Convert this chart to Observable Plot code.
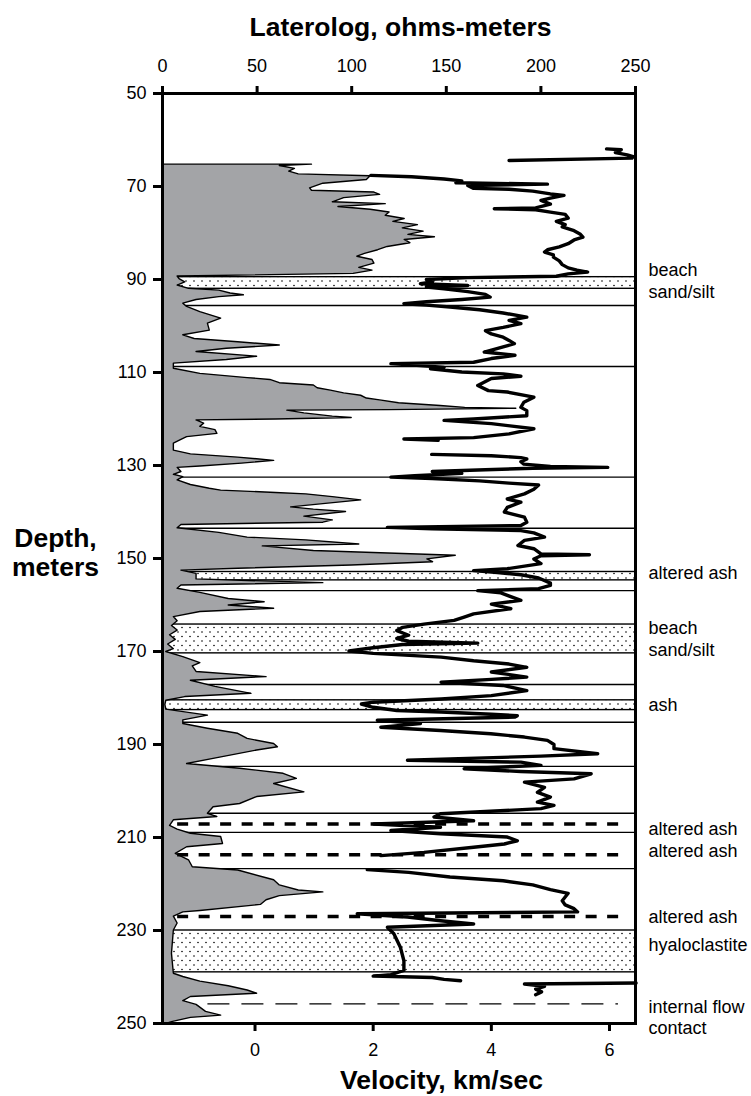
<!DOCTYPE html>
<html>
<head>
<meta charset="utf-8">
<script src="https://cdn.jsdelivr.net/npm/d3@7"></script>
<script src="https://cdn.jsdelivr.net/npm/@observablehq/plot@0.6"></script>
<style>
  html, body { margin: 0; padding: 0; background: white; }
</style>
</head>
<body>
<div id="chart"></div>
<script>
// ---------- data ----------
const depthTicks = [50, 70, 90, 110, 130, 150, 170, 190, 210, 230, 250];
const latTicks = [0, 50, 100, 150, 200, 250];
const velTicks = [0, 2, 4, 6];
const velRange = [-1.566, 6.44];   // velocity spanned by the frame width
const latRange = [0, 250];

// Laterolog (ohm-m) vs depth (m)
const latDepth = [65.3,65.6,66.2,66.8,67.4,67.8,68.6,69.4,70.4,70.9,71.3,71.8,72.5,73.4,73.8,74.4,75.0,75.6,76.3,77.0,77.6,78.3,79.0,79.7,80.4,80.9,81.5,82.2,83.0,83.7,84.5,85.1,85.8,86.6,87.5,88.1,88.8,89.35,89.9,90.6,91.3,92.0,92.4,93.0,93.4,93.8,94.4,95.2,95.9,97.0,98.4,99.5,101.0,102.0,102.8,103.5,104.2,104.9,105.6,106.6,107.3,108.1,109.2,110.3,111.2,111.6,112.3,112.8,113.4,113.9,114.5,115.0,115.6,116.0,116.6,117.2,117.6,117.8,118.1,118.2,118.8,119.5,119.8,120.1,120.3,121.0,121.7,122.4,123.2,123.9,124.5,125.3,126.8,127.6,128.3,129.0,129.6,130.2,130.5,131.4,132.0,132.5,133.2,134.2,135.0,135.4,135.9,136.2,136.8,137.5,138.3,139.0,139.5,140.0,141.0,141.8,142.3,142.8,143.5,144.5,145.5,146.1,147.0,147.4,148.4,149.4,150.2,150.8,151.5,152.2,152.6,153.3,154.5,155.3,155.8,156.5,157.4,158.7,159.4,160.1,160.8,161.5,162.6,163.5,164.5,165.5,166.5,167.5,168.5,169.5,170.1,171.2,172.5,173.2,174.4,175.5,176.3,177.6,179.1,179.8,180.6,181.5,182.5,183.8,184.8,185.6,186.6,187.7,188.8,189.9,190.6,191.3,193.1,194.2,195.2,196.3,197.4,198.5,200.3,201.3,202.8,203.5,204.9,205.6,206.3,207.5,208.3,209.2,209.9,211.4,212.1,213.5,214.9,216.4,217.1,219.2,220.3,221.4,221.8,222.6,223.5,224.5,225.8,226.1,227.0,228.5,230.0,235.0,239.3,240.0,241.0,242.0,242.9,243.6,244.3,245.2,246.0,247.5,248.3,248.8,249.7,250];
const latOhm = [79,62,70,67,72,110,108,85,78,79,112,115,96,90,118,93,110,120,118,128,122,135,127,138,130,144,128,131,119,114,107,103,111,112,104,111,101,8,9,12,8,14,30,36,43,30,18,11,13,20,31,24,25,11,17,40,62,34,18,50,34,6,6,20,45,57,62,80,82,89,96,105,108,115,125,147,160,187,120,66,75,90,100,60,18,22,20,28,29,13,10,6,6,15,40,59,42,20,8,10,6,11,8,15,25,31,60,76,90,105,85,68,80,97,75,90,85,10,8,30,45,76,104,53,80,155,140,143,100,40,10,18,18,85,10,8,20,35,54,35,59,20,6,8,5,8,4,7,3,6,2,11,20,16,18,55,15,28,47,12,2,1.5,2,24,11,11,24,40,45,59,61,50,27,13,41,64,71,59,75,50,41,27,24,29,6,4,8,15,31,32,13,7,14,16,40,59,62,72,85,62,55,52,20,11,6,8,6,5,6,11,20,35,45,50,15,11,18,23,31,15,5,3];

// Velocity (km/s) vs depth (m); NaN marks a gap in the log
const velDepth = [61.9,62.1,62.7,63.2,63.6,63.9,64.4,NaN,
67.6,67.9,68.4,68.8,69.2,69.5,69.8,70.4,70.6,71.0,71.6,71.9,72.5,73.0,73.8,74.6,74.8,75.0,75.5,76.0,76.8,77.5,78.2,78.7,79.5,80.2,80.9,81.5,82.3,83.0,83.6,84.1,84.7,85.2,86.0,86.8,87.5,88.0,88.4,88.8,89.3,89.6,90.0,90.5,90.9,91.3,91.6,92.0,92.6,93.2,93.8,94.3,94.8,95.2,95.5,95.9,96.5,97.2,98.1,98.8,99.5,100.3,101.0,101.7,102.4,103.1,103.8,104.5,105.6,106.3,107.0,107.8,108.1,108.5,108.9,109.2,109.9,110.3,110.8,111.3,112.8,113.9,114.2,115.3,116.4,117.5,118.2,119.3,120.0,120.3,121.0,122.1,123.2,124.0,124.3,124.6,NaN,
127.6,127.9,128.3,128.6,129.2,129.7,130.2,130.4,130.6,130.9,131.3,131.7,132.2,132.5,132.8,133.3,133.8,134.2,135.1,136.1,137.2,137.9,139.0,140.0,141.1,142.2,142.9,143.3,143.6,144.0,144.5,145.4,146.1,147.2,147.9,149.0,149.2,149.4,150.1,151.1,152.2,152.6,153.0,153.5,154.2,155.3,155.8,156.5,156.9,157.4,159.0,159.8,160.8,161.9,162.6,163.3,164.1,164.8,165.5,166.5,167.2,167.8,168.2,168.5,169.2,169.9,170.4,171.2,172.0,172.7,173.4,174.4,175.5,176.0,176.6,177.3,178.4,179.5,180.2,180.9,181.3,182.0,182.7,183.0,183.5,183.8,184.1,184.8,185.5,186.3,187.0,187.7,188.4,189.1,190.0,190.9,192.0,192.5,193.4,193.8,194.5,195.2,195.8,196.3,197.4,198.1,199.2,200.3,201.3,202.4,203.1,203.8,204.9,205.6,206.4,207.1,207.8,208.5,209.2,209.9,210.7,211.4,212.1,213.2,213.9,NaN,
216.9,217.5,218.5,219.3,220.2,221.2,222.0,222.8,223.6,224.5,225.3,226.0,226.4,227.1,227.9,228.6,229.3,230.7,233.6,236.5,238.6,239.5,239.8,240.1,240.5,240.8,NaN,
241.3,241.5,242.0,242.6,243.2,243.8];
const velKms = [5.95,6.2,6.1,6.3,6.4,6.38,4.30,NaN,
1.96,2.65,3.2,3.5,3.4,4.95,3.6,3.7,4.3,4.7,5.0,5.23,5.0,4.84,5.0,4.75,4.05,4.75,5.0,5.25,5.3,5.1,5.25,5.2,5.4,5.5,5.55,5.4,5.3,5.15,4.95,4.9,5.05,5.05,5.15,5.2,5.3,5.45,5.63,5.3,5.1,3.6,2.9,3.0,2.8,3.6,2.9,3.2,3.6,3.9,3.98,3.5,2.9,2.52,2.9,3.3,3.8,4.2,4.6,4.3,4.5,4.2,3.9,4.0,4.2,4.3,4.39,4.2,3.88,4.4,4.0,3.7,2.3,2.8,3.2,2.97,3.5,4.2,4.5,4.0,3.77,3.95,4.27,4.72,4.55,4.5,4.6,4.6,3.7,3.2,4.0,4.72,4.3,3.7,2.52,3.1,NaN,
2.99,4.0,4.5,4.6,4.5,4.55,5.0,5.97,4.7,3.9,3.0,3.5,2.7,2.3,3.0,3.8,4.3,4.8,4.72,4.56,4.27,4.5,4.27,4.22,4.56,4.6,4.5,2.24,3.0,4.5,4.72,4.9,4.56,4.45,4.72,4.84,5.66,4.84,4.72,4.84,4.27,3.7,4.1,4.5,4.8,5.0,5.0,4.8,3.77,4.16,4.5,4.0,4.33,3.7,3.54,3.37,2.86,2.5,2.4,2.6,2.4,2.6,3.77,2.5,2.0,1.59,2.0,3.15,3.7,4.3,4.6,4.0,4.6,4.0,3.15,4.2,4.6,4.0,3.15,2.0,1.8,2.0,2.4,3.15,4.0,4.44,4.4,2.07,2.8,2.13,3.14,3.99,4.56,4.95,5.06,5.06,5.8,4.84,2.58,4.5,4.84,3.54,4.5,5.69,5.4,4.56,4.9,4.78,5.0,4.78,5.06,4.84,3.14,3.03,3.7,2.01,3.14,2.3,3.14,4.27,4.44,4.22,3.7,2.86,2.13,NaN,
1.9,2.6,3.3,4.2,4.7,5.0,5.3,5.25,5.2,5.25,5.4,5.46,1.73,2.58,3.14,3.7,2.24,2.35,2.46,2.52,2.52,2.3,2.0,3.0,3.2,3.48,NaN,
6.45,4.56,4.9,4.75,4.85,4.75];

// Lithology
const bandTop    = [89.5, 152.9, 164.2, 180.5, 230.0];
const bandBottom = [92.0, 154.7, 170.4, 182.6, 239.0];
const contactDepths = [95.6, 108.7, 132.5, 143.5, 156.9, 177.1, 185.2, 194.7, 204.8, 208.9, 216.7];
const alteredAshDepths = [207.1, 213.7, 227.0];
const flowContactDepths = [245.8];

const labelTexts  = ["beach", "sand/silt", "altered ash", "beach", "sand/silt", "ash", "altered ash", "altered ash", "altered ash", "hyaloclastite", "internal flow", "contact"];
const labelDepths = [88.1, 92.8, 153.2, 165.1, 169.8, 181.6, 208.2, 213.0, 227.2, 233.2, 246.5, 251.1];

// ---------- helpers ----------
const latOf = v => (v - velRange[0]) / (velRange[1] - velRange[0]) * (latRange[1] - latRange[0]) + latRange[0];
const velOf = l => (l - latRange[0]) / (latRange[1] - latRange[0]) * (velRange[1] - velRange[0]) + velRange[0];

const latData = latDepth.map((d, i) => ({d, lat: latOhm[i]}));
const velData = velDepth.map((d, i) => ({d, v: velKms[i]}));
const bands = bandTop.map((t, i) => ({t, b: bandBottom[i]}));
const labels = labelTexts.map((t, i) => ({t, d: labelDepths[i]}));

const stipple = () => {
  const defs = d3.create("svg:defs");
  const p = defs.append("pattern")
    .attr("id", "stipple")
    .attr("patternUnits", "userSpaceOnUse")
    .attr("width", 8).attr("height", 9);
  p.append("rect").attr("width", 8).attr("height", 9).attr("fill", "white");
  p.append("circle").attr("cx", 2).attr("cy", 2).attr("r", 0.8).attr("fill", "black");
  p.append("circle").attr("cx", 6).attr("cy", 6.5).attr("r", 0.8).attr("fill", "black");
  return defs.node();
};

const chart = Plot.plot({
  width: 751,
  height: 1096,
  marginTop: 93,
  marginBottom: 73,
  marginLeft: 162,
  marginRight: 116,
  style: {fontFamily: "'Liberation Sans', Arial, Helvetica, sans-serif", fontSize: "18px", background: "white", color: "black"},
  x: {domain: latRange},
  y: {domain: [50, 250], reverse: true},
  marks: [
    stipple,
    Plot.rect(bands, {x1: 0, x2: 250, y1: "t", y2: "b", fill: "url(#stipple)", stroke: "black", strokeWidth: 1.4}),
    Plot.ruleY(contactDepths, {x1: 0, x2: 250, stroke: "black", strokeWidth: 1.4}),
    Plot.areaX(latData, {x1: 0, x2: "lat", y: "d", fill: "#a3a4a7", stroke: "black", strokeWidth: 1.4, strokeLinejoin: "round"}),
    Plot.ruleY(alteredAshDepths, {x1: 8, x2: 246, stroke: "black", strokeWidth: 3.5, strokeDasharray: "11,10.5"}),
    Plot.ruleY(flowContactDepths, {x1: 24, x2: 241, stroke: "black", strokeWidth: 1.3, strokeDasharray: "22,12"}),
    Plot.line(velData, {x: d => latOf(d.v), y: "d", stroke: "black", strokeWidth: 3.4, strokeLinejoin: "round", strokeLinecap: "round"}),
    Plot.frame({stroke: "black", strokeWidth: 3}),
    Plot.axisY({ticks: depthTicks, tickSize: 9, tickPadding: 7, strokeWidth: 3, fontSize: 18, label: null, tickFormat: d => String(d)}),
    Plot.axisX({anchor: "top", ticks: latTicks, tickSize: 8, tickPadding: 14, strokeWidth: 3, fontSize: 18, label: null, tickFormat: d => String(d)}),
    Plot.axisX({anchor: "bottom", ticks: velTicks.map(latOf), tickSize: 8, tickPadding: 12, strokeWidth: 3, fontSize: 18, label: null, tickFormat: d => String(Math.round(velOf(d)))}),
    Plot.text(labels, {x: 250, y: "d", text: "t", dx: 13, textAnchor: "start", lineAnchor: "middle", fontSize: 18}),
    Plot.text(["Laterolog, ohms-meters"], {text: d => d, frameAnchor: "top", lineAnchor: "middle", dx: 1.5, dy: -66, fontSize: 26.5, fontWeight: "bold"}),
    Plot.text(["Velocity, km/sec"], {text: d => d, frameAnchor: "bottom", lineAnchor: "middle", dx: 42.5, dy: 57, fontSize: 26.5, fontWeight: "bold"}),
    Plot.text(["Depth,\nmeters"], {text: d => d, frameAnchor: "left", lineAnchor: "middle", dx: -107, dy: -6, textAnchor: "middle", lineHeight: 1.06, fontSize: 26.5, fontWeight: "bold"})
  ]
});
document.getElementById("chart").appendChild(chart);
</script>
</body>
</html>
